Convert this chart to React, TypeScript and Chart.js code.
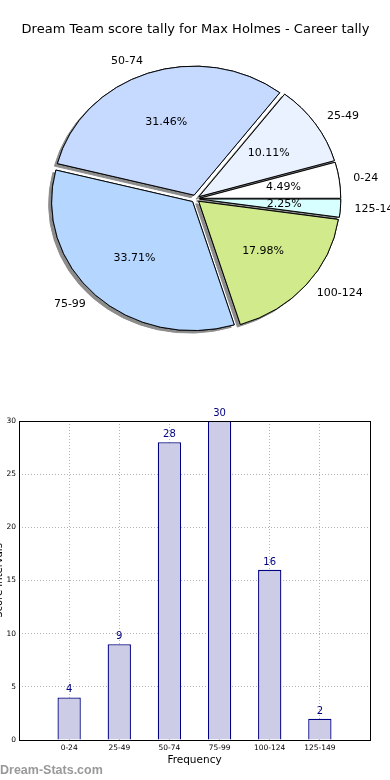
import React, { useEffect, useRef } from 'react';
import { Chart, registerables } from 'chart.js';

Chart.register(...registerables);

const TITLE = 'Dream Team score tally for Max Holmes - Career tally';
const categories = ['0-24', '25-49', '50-74', '75-99', '100-124', '125-149'];
const counts = [4, 9, 28, 30, 16, 2];
const pieColors = ['#ffffff', '#eaf2ff', '#c6d9ff', '#b5d6ff', '#d0ea8c', '#d8ffff'];
const X_LABEL = 'Frequency';
const Y_LABEL = 'Score Intervals';
const WATERMARK = 'Dream-Stats.com';

const FONT = '"DejaVu Sans", sans-serif';
const PIE_RX = 141;
const Y_RATIO = 129 / 141;
const EXPLODE = 0.03;
const LABEL_DIST = 1.1;
const PCT_DIST = 0.6;

const explodedPie = {
  id: 'explodedPie',
  beforeDatasetsDraw(chart: any) {
    const meta = chart.getDatasetMeta(0);
    const arcs = meta.data;
    if (!arcs.length) return false;
    const ctx = chart.ctx;
    const cx = arcs[0].x;
    const cy = arcs[0].y;
    const d = EXPLODE * arcs[0].outerRadius;
    const pass = (shadow: boolean) => {
      arcs.forEach((arc: any) => {
        const mid = (arc.startAngle + arc.endAngle) / 2;
        ctx.save();
        ctx.translate(cx, cy);
        ctx.scale(1, Y_RATIO);
        ctx.translate(-cx, -cy);
        ctx.translate(Math.cos(mid) * d, Math.sin(mid) * d);
        if (shadow) {
          ctx.shadowColor = '#8c8c8c';
          ctx.shadowOffsetX = -3;
          ctx.shadowOffsetY = 2.5;
          ctx.shadowBlur = 0;
        }
        arc.draw(ctx);
        ctx.restore();
      });
    };
    pass(true);
    pass(false);
    return false;
  },
  afterDraw(chart: any) {
    const meta = chart.getDatasetMeta(0);
    const ctx = chart.ctx;
    const data = chart.data.datasets[0].data as number[];
    const labels = chart.data.labels as string[];
    const total = data.reduce((a, b) => a + b, 0);
    ctx.save();
    ctx.font = `11px ${FONT}`;
    ctx.fillStyle = '#000';
    ctx.textBaseline = 'middle';
    meta.data.forEach((arc: any, i: number) => {
      const mid = (arc.startAngle + arc.endAngle) / 2;
      const c = Math.cos(mid);
      const s = Math.sin(mid);
      const R = arc.outerRadius;
      ctx.textAlign = c > 0 ? 'left' : 'right';
      ctx.fillText(labels[i], arc.x + (EXPLODE + LABEL_DIST) * R * c, arc.y + (EXPLODE + LABEL_DIST) * R * Y_RATIO * s);
      ctx.textAlign = 'center';
      ctx.fillText(((data[i] / total) * 100).toFixed(2) + '%', arc.x + (EXPLODE + PCT_DIST) * R * c, arc.y + (EXPLODE + PCT_DIST) * R * Y_RATIO * s);
    });
    ctx.restore();
  },
};

const barExtras = {
  id: 'barExtras',
  afterDatasetsDraw(chart: any) {
    const meta = chart.getDatasetMeta(0);
    const ctx = chart.ctx;
    ctx.save();
    ctx.font = `10px ${FONT}`;
    ctx.fillStyle = '#000080';
    ctx.textAlign = 'center';
    ctx.textBaseline = 'alphabetic';
    meta.data.forEach((bar: any, i: number) => {
      ctx.fillText(String(counts[i]), bar.x, bar.y - 5);
    });
    ctx.restore();
  },
  afterDraw(chart: any) {
    const { left, right, top, bottom } = chart.chartArea;
    const ctx = chart.ctx;
    ctx.save();
    ctx.strokeStyle = '#000';
    ctx.lineWidth = 1;
    ctx.strokeRect(Math.round(left) + 0.5, Math.round(top) + 0.5, Math.round(right - left), Math.round(bottom - top));
    ctx.restore();
  },
};

function PieChart() {
  const ref = useRef<HTMLCanvasElement>(null);
  useEffect(() => {
    const order = categories.map((_, i) => categories.length - 1 - i);
    const chart = new Chart(ref.current as HTMLCanvasElement, {
      type: 'pie',
      data: {
        labels: order.map((i) => categories[i]),
        datasets: [
          {
            data: order.map((i) => counts[i]),
            backgroundColor: order.map((i) => pieColors[i]),
            borderColor: '#000',
            borderWidth: 1,
            radius: PIE_RX,
            rotation: 90,
          } as any,
        ],
      },
      options: {
        responsive: false,
        animation: false,
        events: [],
        rotation: 90,
        radius: PIE_RX,
        layout: { padding: { left: 1, right: 0, top: 0, bottom: 0 } },
        plugins: {
          legend: { display: false },
          tooltip: { enabled: false },
          title: {
            display: true,
            text: TITLE,
            color: '#000',
            font: { family: FONT, size: 13, weight: 'normal' },
            padding: { top: 22, bottom: 2 },
          },
        },
      } as any,
      plugins: [explodedPie],
    });
    return () => chart.destroy();
  }, []);
  return (
    <canvas
      ref={ref}
      width={390}
      height={358}
      style={{ position: 'absolute', left: 0, top: 0, width: 390, height: 358 }}
    />
  );
}

function BarChart() {
  const ref = useRef<HTMLCanvasElement>(null);
  useEffect(() => {
    const grid = { color: '#b4b4b4', lineWidth: 1, drawTicks: false, offset: false };
    const border = { display: false, dash: [1, 2] };
    const chart = new Chart(ref.current as HTMLCanvasElement, {
      type: 'bar',
      data: {
        datasets: [
          {
            data: categories.map((c, i) => ({ x: i, y: counts[i] })),
            backgroundColor: 'rgba(204, 204, 230, 1)',
            borderColor: '#000080',
            borderWidth: 1.3,
            barPercentage: 0.465,
            categoryPercentage: 1,
          } as any,
        ],
      },
      options: {
        responsive: false,
        animation: false,
        events: [],
        layout: { padding: { top: 63, right: 20, left: 0, bottom: 0 } },
        plugins: { legend: { display: false }, tooltip: { enabled: false } },
        scales: {
          x: {
            type: 'linear',
            min: -1,
            max: 6,
            offset: false,
            z: 1,
            afterFit: (s: any) => {
              s.height = 40;
            },
            ticks: {
              stepSize: 1,
              autoSkip: false,
              maxRotation: 0,
              padding: 4,
              color: '#000',
              font: { family: FONT, size: 7.5 },
              callback: (v: any) => categories[v] ?? '',
            },
            grid,
            border,
            title: {
              display: true,
              text: X_LABEL,
              color: '#000',
              font: { family: FONT, size: 10.5 },
              padding: { top: 0, bottom: 13 },
            },
          },
          y: {
            type: 'linear',
            min: 0,
            max: 30,
            z: 1,
            afterFit: (s: any) => {
              s.width = 19;
            },
            ticks: {
              stepSize: 5,
              padding: 3,
              color: '#000',
              font: { family: FONT, size: 7.5 },
            },
            grid,
            border,
            title: {
              display: true,
              text: Y_LABEL,
              color: '#000',
              font: { family: FONT, size: 10 },
              padding: { top: -7, bottom: 0 },
            },
          },
        },
      } as any,
      plugins: [barExtras],
    });
    return () => chart.destroy();
  }, []);
  return (
    <canvas
      ref={ref}
      width={390}
      height={422}
      style={{ position: 'absolute', left: 0, top: 358, width: 390, height: 422 }}
    />
  );
}

export default function App() {
  return (
    <div style={{ position: 'absolute', left: 0, top: 0, width: 390, height: 780, background: '#fff', overflow: 'hidden' }}>
      <PieChart />
      <BarChart />
      <div
        style={{
          position: 'absolute',
          left: 0,
          top: 763,
          font: 'bold 12.5px "Liberation Sans", sans-serif',
          lineHeight: '14px',
          color: '#999',
          whiteSpace: 'nowrap',
        }}
      >
        {WATERMARK}
      </div>
    </div>
  );
}
